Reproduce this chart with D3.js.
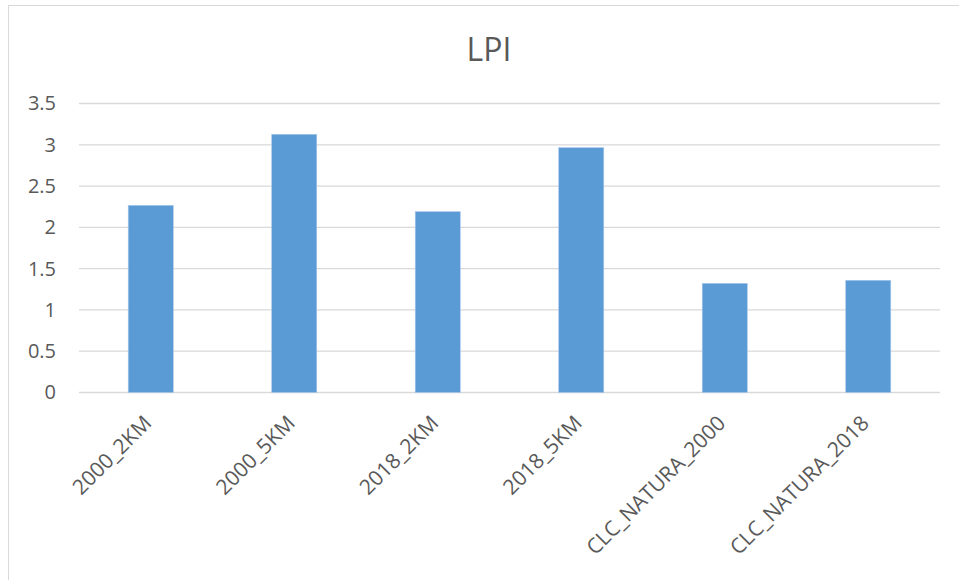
<!DOCTYPE html>
<html>
<head>
<meta charset="utf-8">
<script src="https://cdn.jsdelivr.net/npm/d3@7"></script>
<style>
  html, body { margin: 0; padding: 0; background: #fff; }
  svg { display: block; }
  text { font-family: "Open Sans", "Liberation Sans", sans-serif; fill: #595959; }
</style>
</head>
<body>
<svg id="chart" width="959" height="580"></svg>
<script>
// LPI by dataset
const categories = ["2000_2KM", "2000_5KM", "2018_2KM", "2018_5KM", "CLC_NATURA_2000", "CLC_NATURA_2018"];
const lpiValues = [2.267, 3.127, 2.19, 2.965, 1.322, 1.359];
const yTicks = [0, 0.5, 1, 1.5, 2, 2.5, 3, 3.5];
const chartTitle = "LPI";

const svg = d3.select("#chart");
const W = 959, H = 580;
const plot = { left: 79, right: 940, top: 103.5, bottom: 392.5 };

// chart frame
svg.append("rect")
  .attr("x", 8.5).attr("y", 5.5)
  .attr("width", W + 10).attr("height", H + 10)
  .attr("fill", "#fff")
  .attr("stroke", "#d9d9d9").attr("stroke-width", 1);

const x = d3.scaleBand()
  .domain(categories)
  .range([plot.left, plot.right])
  .paddingInner(0.686)
  .paddingOuter(0.343);

const y = d3.scaleLinear()
  .domain([0, 3.5])
  .range([plot.bottom, plot.top]);

// gridlines
svg.append("g")
  .selectAll("line")
  .data(yTicks)
  .join("line")
  .attr("x1", plot.left).attr("x2", plot.right)
  .attr("y1", d => y(d)).attr("y2", d => y(d))
  .attr("stroke", "#d9d9d9").attr("stroke-width", 1.3);

// y axis labels
const yAxis = d3.axisLeft(y)
  .tickValues(yTicks)
  .tickSize(0)
  .tickPadding(0)
  .tickFormat(d3.format("~g"));
const gy = svg.append("g")
  .attr("transform", `translate(56,0)`)
  .call(yAxis);
gy.select(".domain").remove();
gy.selectAll("text")
  .attr("font-size", 20)
  .attr("fill", "#595959")
  .style("font-family", '"Open Sans", sans-serif');

// bars
svg.append("g")
  .selectAll("rect")
  .data(categories.map((c, i) => ({ c, v: lpiValues[i] })))
  .join("rect")
  .attr("x", d => x(d.c))
  .attr("width", x.bandwidth())
  .attr("y", d => y(d.v))
  .attr("height", d => y(0) - y(d.v))
  .attr("fill", "#5b9bd5")
  .attr("stroke", "#a9c8ea")
  .attr("stroke-width", 0.6);

// x axis labels (rotated)
const xAxis = d3.axisBottom(x).tickSize(0).tickPadding(0);
const gx = svg.append("g")
  .attr("transform", `translate(0,${plot.bottom})`)
  .call(xAxis);
gx.select(".domain").remove();
gx.selectAll("text")
  .attr("font-size", 21)
  .attr("fill", "#595959")
  .style("font-family", '"Open Sans", sans-serif')
  .attr("text-anchor", "end")
  .attr("dy", null)
  .attr("y", 0)
  .attr("transform", "translate(2,32) rotate(-45)");

// title
svg.append("text")
  .attr("x", 489).attr("y", 61)
  .attr("text-anchor", "middle")
  .attr("font-size", 32)
  .text(chartTitle);
</script>
</body>
</html>
